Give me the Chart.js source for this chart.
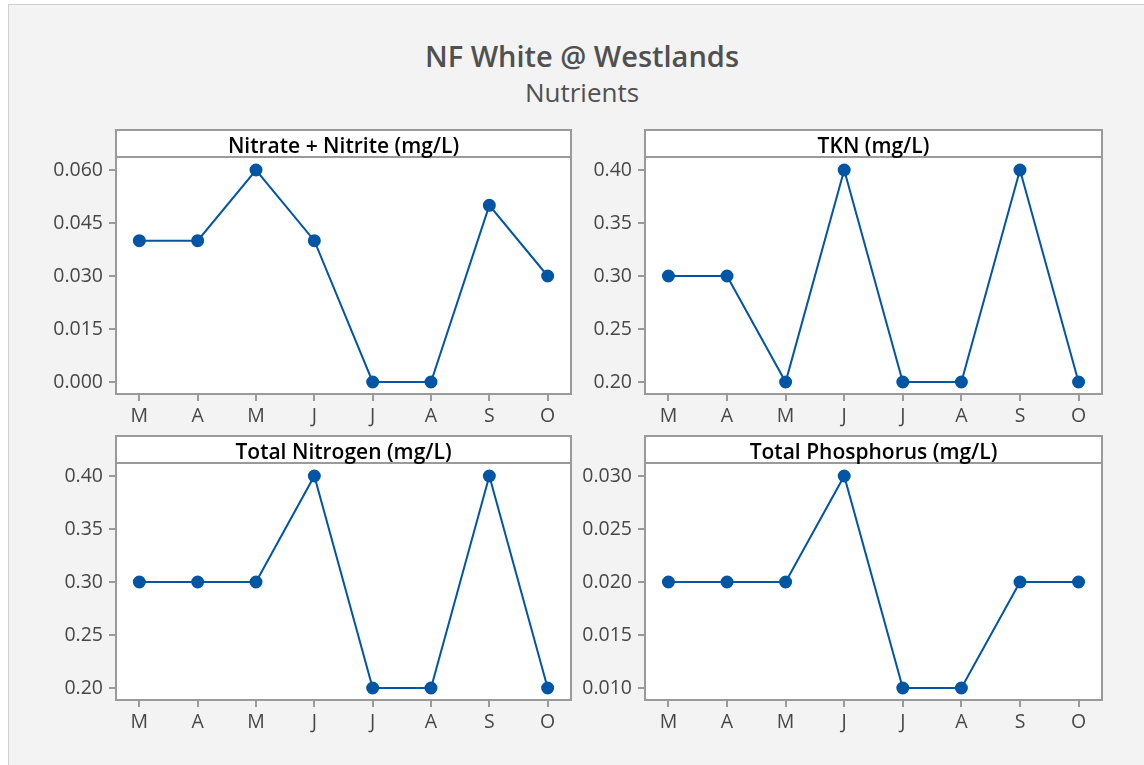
<!DOCTYPE html>
<html>
<head>
<meta charset="utf-8">
<script src="https://cdn.jsdelivr.net/npm/chart.js@4.4.1/dist/chart.umd.min.js"></script>
<style>
  body { margin: 0; background: #fff; width: 1144px; height: 765px; overflow: hidden; font-family: "Open Sans", sans-serif; }
  #bg { position: absolute; left: 8px; top: 4px; width: 1150px; height: 780px; background: #f3f3f3; border: 1px solid #cfcfcf; }
  .title { position: absolute; left: 282px; width: 600px; text-align: center; color: #505050; white-space: nowrap; }
  #t1 { top: 36px; font-size: 29px; font-weight: 600; }
  #t2 { top: 74px; font-size: 26px; }
  canvas { position: absolute; }
</style>
</head>
<body>
<div id="bg"></div>
<div class="title" id="t1">NF White @ Westlands</div>
<div class="title" id="t2">Nutrients</div>
<canvas id="c1"></canvas>
<canvas id="c2"></canvas>
<canvas id="c3"></canvas>
<canvas id="c4"></canvas>
<script>
// months (May - Oct)
const months = ['M', 'A', 'M', 'J', 'J', 'A', 'S', 'O'];

// values per panel
const nitrate = [0.04, 0.04, 0.06, 0.04, 0.0, 0.0, 0.05, 0.03];
const tkn = [0.30, 0.30, 0.20, 0.40, 0.20, 0.20, 0.40, 0.20];
const totalN = [0.30, 0.30, 0.30, 0.40, 0.20, 0.20, 0.40, 0.20];
const totalP = [0.020, 0.020, 0.020, 0.030, 0.010, 0.010, 0.020, 0.020];

// y tick labels per panel
const nitrateTicks = [0.000, 0.015, 0.030, 0.045, 0.060];
const tknTicks = [0.20, 0.25, 0.30, 0.35, 0.40];
const totalNTicks = [0.20, 0.25, 0.30, 0.35, 0.40];
const totalPTicks = [0.010, 0.015, 0.020, 0.025, 0.030];

const panelTitles = ['Nitrate + Nitrite (mg/L)', 'TKN (mg/L)', 'Total Nitrogen (mg/L)', 'Total Phosphorus (mg/L)'];

const blue = '#0055a5';
const frameGrey = '#9a9a9a';
const tickFont = { family: 'Open Sans', size: 19.5 };

// draws the white plot box, the header strip and its text
const panelFrame = {
    id: 'panelFrame',
    beforeDraw(chart, args, opts) {
        const a = chart.chartArea, ctx = chart.ctx;
        ctx.save();
        ctx.fillStyle = '#fff';
        ctx.fillRect(a.left, a.top - opts.headerH, a.right - a.left, a.bottom - a.top + opts.headerH);
        ctx.restore();
    },
    afterDraw(chart, args, opts) {
        const a = chart.chartArea, ctx = chart.ctx;
        ctx.save();
        ctx.strokeStyle = frameGrey;
        ctx.lineWidth = 2;
        ctx.strokeRect(a.left, a.top - opts.headerH, a.right - a.left, a.bottom - a.top + opts.headerH);
        ctx.beginPath();
        ctx.moveTo(a.left, a.top);
        ctx.lineTo(a.right, a.top);
        ctx.stroke();
        ctx.fillStyle = '#000';
        ctx.font = '600 21px "Open Sans"';
        ctx.textAlign = 'center';
        ctx.textBaseline = 'alphabetic';
        ctx.fillText(opts.text, (a.left + a.right) / 2, a.top - 4);
        ctx.restore();
    }
};

function makePanel(id, values, ticks, title, frame, canvasBox, decimals) {
    const cv = document.getElementById(id);
    cv.style.left = canvasBox.x + 'px';
    cv.style.top = canvasBox.y + 'px';
    cv.style.width = canvasBox.w + 'px';
    cv.style.height = canvasBox.h + 'px';
    cv.width = canvasBox.w;
    cv.height = canvasBox.h;

    // first/last tick sit 13px / 12px inside the plot box
    const lo = ticks[0], hi = ticks[ticks.length - 1], span = hi - lo;
    const plotH = frame.bottom - frame.top;
    const perPx = span / (plotH - 25);

    new Chart(cv, {
        type: 'line',
        data: {
            datasets: [{
                data: values.map((v, i) => ({ x: i, y: v })),
                borderColor: blue,
                backgroundColor: blue,
                borderWidth: 2,
                pointRadius: 5.5,
                pointHoverRadius: 5.5,
                tension: 0
            }]
        },
        options: {
            responsive: false,
            animation: false,
            clip: false,
            layout: {
                padding: {
                    left: 0,
                    top: frame.top - canvasBox.y,
                    right: canvasBox.x + canvasBox.w - frame.right,
                    bottom: 0
                }
            },
            plugins: {
                legend: { display: false },
                tooltip: { enabled: false },
                panelFrame: { text: title, headerH: 27 }
            },
            scales: {
                x: {
                    type: 'linear',
                    min: -0.4,
                    max: months.length - 1 + 0.4,
                    afterBuildTicks: s => { s.ticks = months.map((m, i) => ({ value: i })); },
                    afterFit: s => { s.height = canvasBox.y + canvasBox.h - frame.bottom; },
                    grid: { drawOnChartArea: false, drawTicks: true, tickLength: 7, color: frameGrey, lineWidth: 2 },
                    border: { display: false },
                    ticks: {
                        color: '#474747',
                        font: tickFont,
                        padding: 4,
                        maxRotation: 0,
                        autoSkip: false,
                        callback: v => months[v]
                    }
                },
                y: {
                    min: lo - 12 * perPx,
                    max: hi + 13 * perPx,
                    afterBuildTicks: s => { s.ticks = ticks.map(v => ({ value: v })); },
                    afterFit: s => { s.width = frame.left - canvasBox.x; },
                    grid: { drawOnChartArea: false, drawTicks: true, tickLength: 7, color: frameGrey, lineWidth: 2 },
                    border: { display: false },
                    ticks: {
                        color: '#474747',
                        font: tickFont,
                        padding: 6,
                        callback: v => v.toFixed(decimals)
                    }
                }
            }
        },
        plugins: [panelFrame]
    });
}

makePanel('c1', nitrate, nitrateTicks, panelTitles[0],
    { left: 116, right: 571, top: 157, bottom: 394 }, { x: 10, y: 120, w: 570, h: 310 }, 3);
makePanel('c2', tkn, tknTicks, panelTitles[1],
    { left: 645, right: 1102, top: 157, bottom: 394 }, { x: 580, y: 120, w: 540, h: 310 }, 2);
makePanel('c3', totalN, totalNTicks, panelTitles[2],
    { left: 116, right: 571, top: 463, bottom: 700 }, { x: 10, y: 430, w: 570, h: 310 }, 2);
makePanel('c4', totalP, totalPTicks, panelTitles[3],
    { left: 645, right: 1102, top: 463, bottom: 700 }, { x: 580, y: 430, w: 540, h: 310 }, 3);
</script>
</body>
</html>
